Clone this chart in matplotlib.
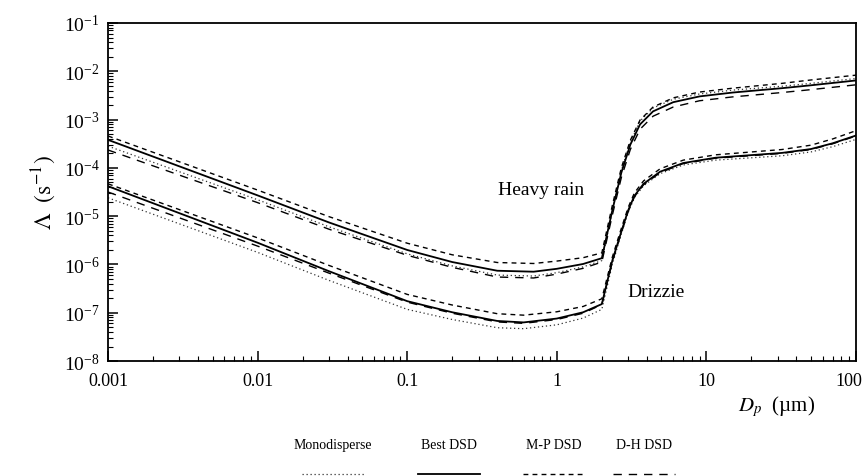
import matplotlib
matplotlib.use("Agg")
import matplotlib.pyplot as plt
import matplotlib.transforms as mtransforms
import numpy as np
from matplotlib.lines import Line2D
from matplotlib.ticker import LogLocator, FixedLocator, FixedFormatter, NullFormatter

plt.rcParams['font.family'] = ['Liberation Serif', 'DejaVu Serif']
plt.rcParams['mathtext.fontset'] = 'stix'

# particle diameter (um) sampled along each group of curves
heavy_dp = [0.001, 0.01, 0.03, 0.1, 0.2, 0.4, 0.7, 1.0, 1.5, 2.0, 2.35, 2.7, 3.1, 3.6, 4.4, 6.0, 9.0, 15, 32, 50, 100]
drizzle_dp = [0.001, 0.01, 0.03, 0.1, 0.2, 0.4, 0.6, 1.0, 1.5, 2.0, 2.35, 2.65, 3.0, 3.3, 3.8, 4.9, 7.0, 11.5, 32, 50, 70, 100]

# scavenging coefficient, log10(s^-1)
heavy_mono = [-3.55, -4.66, -5.22, -5.78, -6.03, -6.22, -6.24, -6.17, -6.05, -5.92, -4.90, -4.05, -3.47, -3.03, -2.76, -2.58, -2.47, -2.39, -2.31, -2.25, -2.15]
heavy_best = [-3.42, -4.57, -5.13, -5.70, -5.95, -6.13, -6.15, -6.09, -5.99, -5.87, -4.88, -4.10, -3.52, -3.10, -2.83, -2.64, -2.52, -2.44, -2.35, -2.29, -2.19]
heavy_mp = [-3.34, -4.46, -5.01, -5.56, -5.80, -5.96, -5.98, -5.93, -5.86, -5.76, -4.78, -4.00, -3.43, -3.01, -2.74, -2.55, -2.43, -2.35, -2.25, -2.18, -2.08]
heavy_dh = [-3.63, -4.72, -5.27, -5.81, -6.06, -6.26, -6.28, -6.20, -6.08, -5.95, -4.98, -4.20, -3.62, -3.20, -2.93, -2.74, -2.61, -2.53, -2.44, -2.38, -2.28]

drizzle_mono = [-4.62, -5.75, -6.33, -6.93, -7.14, -7.31, -7.33, -7.25, -7.11, -6.93, -6.00, -5.45, -4.92, -4.62, -4.37, -4.12, -3.94, -3.84, -3.75, -3.67, -3.56, -3.41]
drizzle_best = [-4.38, -5.55, -6.14, -6.76, -6.99, -7.17, -7.20, -7.12, -6.99, -6.82, -5.92, -5.40, -4.88, -4.58, -4.33, -4.08, -3.90, -3.79, -3.69, -3.61, -3.49, -3.33]
drizzle_mp = [-4.33, -5.45, -6.02, -6.62, -6.84, -7.02, -7.05, -6.98, -6.87, -6.71, -5.85, -5.33, -4.82, -4.52, -4.27, -4.02, -3.84, -3.73, -3.62, -3.53, -3.40, -3.23]
drizzle_dh = [-4.50, -5.62, -6.18, -6.78, -7.01, -7.19, -7.22, -7.14, -7.01, -6.83, -5.95, -5.42, -4.90, -4.60, -4.35, -4.10, -3.91, -3.80, -3.70, -3.62, -3.50, -3.34]

series_names = ['Monodisperse', 'Best DSD', 'M-P DSD', 'D-H DSD']
x_ticks = [0.001, 0.01, 0.1, 1, 10, 100]
x_tick_labels = ['0.001', '0.01', '0.1', '1', '10', '100']

styles = {
    'Monodisperse': dict(color='#333333', lw=0.9, linestyle=(0, (1, 2.2))),
    'Best DSD': dict(color='black', lw=1.3, linestyle='-'),
    'M-P DSD': dict(color='black', lw=1.0, linestyle=(0, (3.5, 3.0))),
    'D-H DSD': dict(color='black', lw=1.0, linestyle=(0, (6, 5))),
}

fig = plt.figure(figsize=(8.67, 4.77), dpi=100)
ax = fig.add_axes([0.1246, 0.241, 0.8627, 0.7087])

heavy = [heavy_mono, heavy_best, heavy_mp, heavy_dh]
drizzle = [drizzle_mono, drizzle_best, drizzle_mp, drizzle_dh]
for name, h, d in zip(series_names, heavy, drizzle):
    ax.plot(heavy_dp, np.power(10.0, h), **styles[name])
    ax.plot(drizzle_dp, np.power(10.0, d), **styles[name])

ax.set_xscale('log')
ax.set_yscale('log')
ax.set_xlim(0.001, 100)
ax.set_ylim(1e-8, 1e-1)

ax.xaxis.set_major_locator(FixedLocator(x_ticks))
ax.xaxis.set_major_formatter(FixedFormatter(x_tick_labels))
ax.xaxis.set_minor_locator(LogLocator(base=10, subs=np.arange(2, 10), numticks=20))
ax.xaxis.set_minor_formatter(NullFormatter())
ax.yaxis.set_major_locator(LogLocator(base=10, numticks=20))
ax.yaxis.set_minor_locator(LogLocator(base=10, subs=np.arange(2, 10), numticks=20))
ax.yaxis.set_minor_formatter(NullFormatter())

ax.tick_params(which='both', direction='in', top=False, right=False)
ax.tick_params(axis='x', labelsize=13, pad=8)
ax.tick_params(axis='y', labelsize=14, pad=6)
ax.tick_params(which='major', length=7, width=1.1)
ax.tick_params(which='minor', length=3.5, width=0.8)
for s in ax.spines.values():
    s.set_linewidth(1.3)

# nudge the last x label inward so it stays inside the canvas
fig.canvas.draw()
last = ax.get_xticklabels()[-1]
last.set_transform(last.get_transform() + mtransforms.ScaledTranslation(-7 / 100, 0, fig.dpi_scale_trans))

ax.set_ylabel(r'$\Lambda\ \ (\mathrm{s}^{-1})$', fontsize=17, labelpad=4)

ax.text(0.79, 3.6e-5, 'Heavy rain', fontsize=14, ha='center', va='center')
ax.text(4.6, 2.7e-7, 'Drizzie', fontsize=14, ha='center', va='center')

fig.text(0.896, 0.147, r'$D_p$  (µm)', fontsize=15, ha='center', va='center')

# legend: label text above a short sample of each line
leg_x = [0.384, 0.518, 0.639, 0.743]
for name, cx in zip(series_names, leg_x):
    fig.text(cx, 0.067, name, fontsize=10, ha='center', va='center')
    fig.add_artist(Line2D([cx - 0.036, cx + 0.036], [0.004, 0.004], transform=fig.transFigure, **styles[name]))

fig.savefig('out.png', dpi=100)
